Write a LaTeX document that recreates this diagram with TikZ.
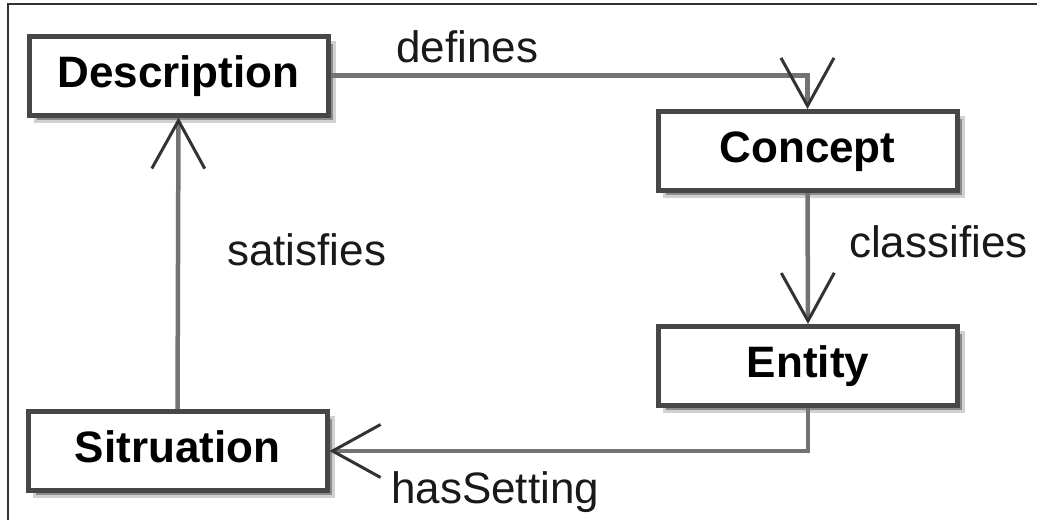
\documentclass[tikz,border=0pt]{standalone}
\usepackage{fontspec}
\setmainfont{Liberation Sans}
\usetikzlibrary{arrows.meta,shadows}

\begin{document}
\begin{tikzpicture}[x=1pt,y=-1pt,
  classbox/.style={draw=black!72, line width=5pt, fill=white,
    minimum width=299pt, minimum height=79pt, inner sep=0pt,
    font=\fontsize{44}{50}\selectfont\bfseries,
    text height=32pt, text depth=9pt,
    drop shadow={shadow xshift=6pt, shadow yshift=-6pt,
      fill=black!45, draw=black!18, line width=3pt, opacity=1}},
  assoc/.style={draw=black!55, line width=4.5pt,
    -{Straight Barb[length=48pt, width=53pt, line width=3pt, color=black!80]}},
  lbl/.style={font=\fontsize{44}{50}\selectfont, inner sep=0pt,
    anchor=base west, text=black!90},
  frameline/.style={draw=black!80, line width=2pt}
]
\useasboundingbox (0,0) rectangle (1037,520);

% outer frame (left and top edges)
\coordinate (fbl) at (8,520);
\coordinate (ftl) at (8,4);
\coordinate (ftr) at (1037,4);
\draw[frameline] (fbl) -- (ftl) -- (ftr);

% classes
\node[classbox] (desc)    at (178.5,75.5) {Description};
\node[classbox] (concept) at (807.5,151)  {Concept};
\node[classbox] (entity)  at (808,366)    {Entity};
\node[classbox] (sit)     at (177.5,451)  {Sitruation};

% associations
\draw[assoc] (desc.east) -| (concept.north);
\draw[assoc] (concept.south) -- (entity.north);
\draw[assoc] (entity.south) |- (sit.east);
\draw[assoc] (sit.north) -- (desc.south);

% association names
\node[lbl] (ldefines)    at (396,62)  {defines};
\node[lbl] (lclassifies) at (849,257) {classifies};
\node[lbl] (lsatisfies)  at (227,265) {satisfies};
\node[lbl] (lsetting)    at (391,503) {hasSetting};
\end{tikzpicture}
\end{document}
